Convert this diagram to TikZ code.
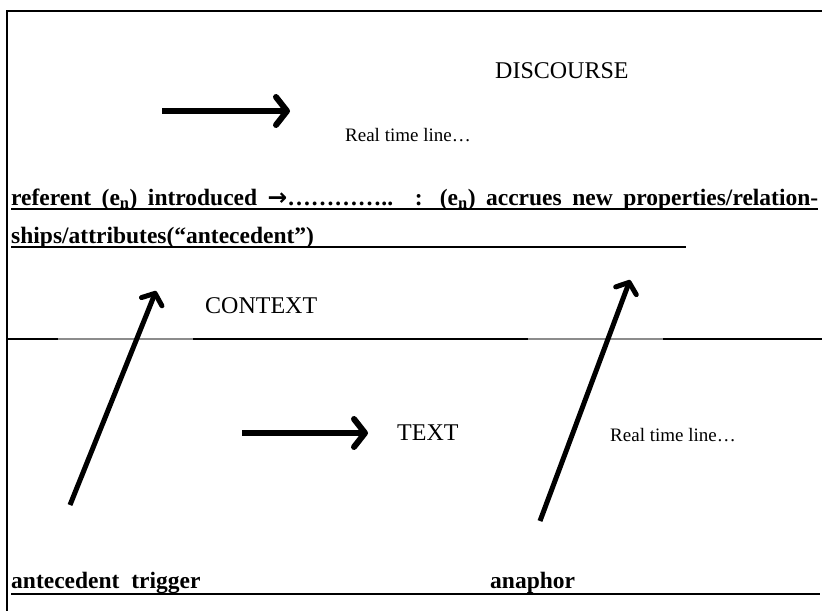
\documentclass[tikz,border=0pt]{standalone}
\usepackage{fontspec}
\setmainfont{Liberation Serif}
\newfontfamily\arrowfont{DejaVu Sans}
\usetikzlibrary{arrows.meta}
\definecolor{linegray}{gray}{0.55}

\begin{document}
\begin{tikzpicture}[x=1pt,y=-1pt,
every node/.style={inner sep=0pt,anchor=base west},
heading/.style={font=\fontsize{24}{28}\selectfont},
timelabel/.style={font=\fontsize{19}{22}\selectfont},
boldline/.style={font=\fontsize{23.5}{27}\selectfont\bfseries},
timearrow/.style={line width=6pt,-{Straight Barb[length=11pt,width=28pt,line width=6pt,round]}},
linkarrow/.style={line width=5pt,-{Straight Barb[length=9pt,width=22pt,line width=5pt,round]}}]
\useasboundingbox (0,0) rectangle (822,611);
% frame and divider
\coordinate (tl) at (7,11);
\coordinate (tr) at (822,11);
\coordinate (bl) at (7,611);
\coordinate (ml) at (7,339);
\coordinate (mr) at (822,339);
\draw[line width=2pt] (tr) -- (tl) -- (bl);
\draw[line width=2pt] (ml) -- (mr);
\draw[linegray,line width=2pt] (58,339) -- (193,339);
\draw[linegray,line width=2pt] (528,339) -- (663,339);
% discourse part
\node[heading] (discourse) at (495,78) {DISCOURSE};
\coordinate (t1s) at (162,111);
\coordinate (t1e) at (290,111);
\draw[timearrow] (t1s) -- (t1e);
\node[timelabel] (rtl1) at (345,141) {Real time line…};
\node[boldline] (line1) at (11,205) {\makebox[807pt][s]{referent (e\textsubscript{n}) introduced {\arrowfont\bfseries →}………….. : (e\textsubscript{n}) accrues new properties/relation-}};
\node[boldline] (line2) at (11,243) {ships/attributes(“antecedent”)};
\coordinate (u2) at (686,247);
\draw[line width=1.2pt] ([yshift=-4pt]line1.base west) -- ([yshift=-4pt]line1.base east);
\draw[line width=1.2pt] ([yshift=-4pt]line2.base west) -- (u2);
\node[heading] (context) at (205,313) {CONTEXT};
% text part
\coordinate (t2s) at (242,433);
\coordinate (t2e) at (368,433);
\draw[timearrow] (t2s) -- (t2e);
\node[heading] (text) at (397,440) {TEXT};
\node[timelabel] (rtl2) at (610,441) {Real time line…};
\node[boldline] (trigger) at (11,588) {antecedent\ \ trigger};
\node[boldline] (anaphor) at (490,588) {anaphor};
\coordinate (u3) at (820,594);
\draw[line width=2pt] ([yshift=-6pt]trigger.base west) -- (u3);
% links up to the discourse
\coordinate (trigtail) at (70,505);
\coordinate (trighead) at (156,291);
\coordinate (anatail) at (540,521);
\coordinate (anahead) at (630,280);
\draw[linkarrow] (trigtail) -- (trighead);
\draw[linkarrow] (anatail) -- (anahead);
\end{tikzpicture}
\end{document}
